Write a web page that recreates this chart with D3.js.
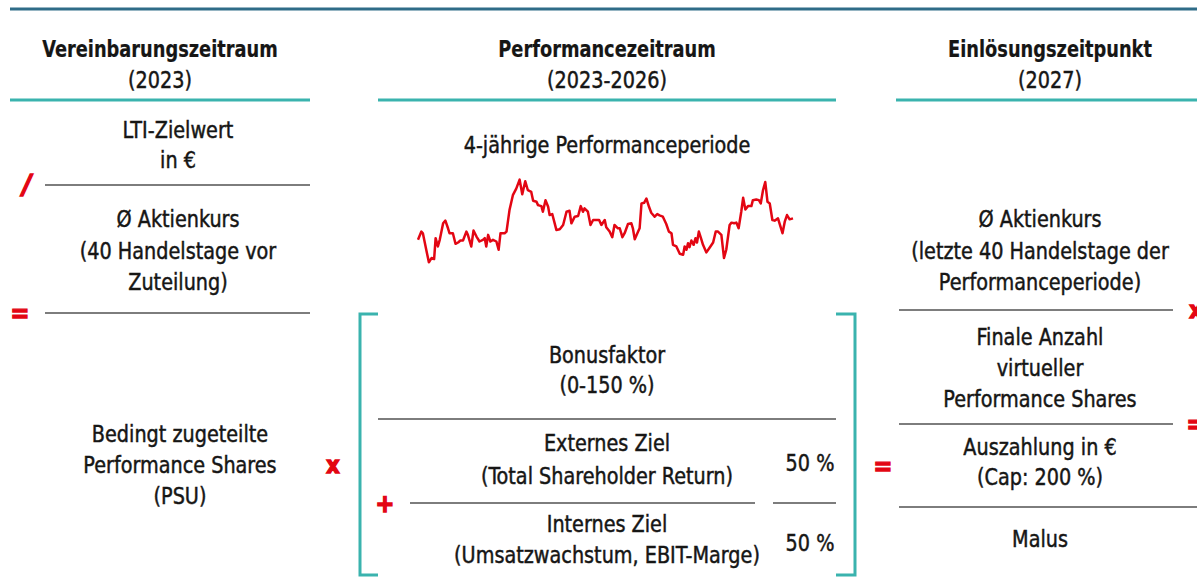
<!DOCTYPE html>
<html>
<head>
<meta charset="utf-8">
<script src="https://cdn.jsdelivr.net/npm/d3@7"></script>
<style>
  body { margin: 0; background: #fff; }
  svg text { font-family: "Liberation Sans Narrow", "DejaVu Sans Condensed", "Liberation Sans", sans-serif; fill: #161615; }
</style>
</head>
<body>
<svg id="canvas" width="1197" height="583"></svg>
<script>
let headers = ['Vereinbarungszeitraum', 'Performancezeitraum', 'Einlösungszeitpunkt'];
let periods = ['(2023)', '(2023-2026)', '(2027)'];

let grantTerms = [
  ['LTI-Zielwert', 'in €'],
  ['Ø Aktienkurs', '(40 Handelstage vor', 'Zuteilung)'],
  ['Bedingt zugeteilte', 'Performance Shares', '(PSU)']
];
let perfTerms = [
  ['Bonusfaktor', '(0-150 %)'],
  ['Externes Ziel', '(Total Shareholder Return)'],
  ['Internes Ziel', '(Umsatzwachstum, EBIT-Marge)']
];
let targetWeights = ['50 %', '50 %'];
let payoutTerms = [
  ['Ø Aktienkurs', '(letzte 40 Handelstage der', 'Performanceperiode)'],
  ['Finale Anzahl', 'virtueller', 'Performance Shares'],
  ['Auszahlung in €', '(Cap: 200 %)'],
  ['Malus']
];
let chartTitle = '4-jährige Performanceperiode';

// share price over the 4 year period (trading day, price)
let days = [0, 9, 13, 22, 29, 36, 43, 47, 53, 58, 67, 73, 80, 84, 93, 100, 107, 113, 120, 129,
  133, 142, 148, 156, 164, 173, 178, 182, 187, 193, 200, 209, 215, 220, 231, 236, 244, 253, 262, 271,
  278, 286, 293, 302, 307, 316, 320, 329, 333, 340, 347, 351, 358, 364, 369, 378, 387, 396, 404, 409,
  418, 427, 434, 440, 444, 453, 460, 467, 476, 483, 489, 498, 502, 511, 518, 524, 533, 538, 545, 551,
  560, 569, 573, 578, 587, 591, 596, 603, 609, 616, 622, 631, 638, 644, 653, 662, 669, 676, 680, 689,
  698, 707, 711, 716, 720, 724, 729, 735, 740, 744, 749, 756, 760, 769, 778, 787, 794, 800, 809, 816,
  822, 831, 836, 843, 849, 855, 862, 867, 873, 880, 889, 893, 902, 909, 914, 920, 926, 932, 938, 945,
  951, 960, 964, 972, 978, 984, 991, 1000];
let prices = [47.0, 49.5, 49.0, 44.0, 40.2, 41.5, 41.2, 47.5, 45.0, 47.0, 52.0, 52.8, 50.5, 49.0, 49.0, 45.8, 46.2, 46.8, 46.8, 49.5,
  48.5, 45.0, 49.8, 48.0, 46.5, 47.0, 47.5, 45.0, 48.5, 46.5, 47.0, 46.5, 44.0, 49.0, 49.0, 49.5, 56.0, 60.5, 62.5, 65.2,
  60.8, 64.7, 62.0, 61.5, 58.8, 58.5, 57.5, 57.2, 55.5, 59.0, 57.0, 54.5, 54.8, 52.2, 50.0, 50.2, 51.5, 55.5, 55.8, 52.0,
  54.0, 54.2, 57.2, 55.5, 56.5, 55.5, 51.5, 53.0, 53.0, 53.0, 51.5, 53.0, 50.8, 49.5, 47.8, 51.5, 50.5, 50.5, 47.8, 49.0,
  51.8, 52.0, 50.5, 47.2, 49.5, 50.5, 58.0, 58.2, 59.5, 57.0, 55.2, 54.0, 54.8, 54.4, 54.0, 51.8, 49.5, 49.0, 45.5, 45.0,
  42.8, 42.5, 45.0, 44.0, 46.0, 44.8, 46.8, 45.5, 47.5, 46.2, 49.5, 47.0, 45.5, 43.2, 44.7, 46.2, 49.5, 49.5, 48.5, 41.5,
  44.0, 51.5, 52.2, 52.0, 52.2, 50.5, 55.5, 59.7, 56.2, 57.2, 57.2, 59.0, 59.2, 59.0, 58.0, 62.0, 64.5, 58.5, 58.0, 53.0,
  52.8, 53.5, 52.0, 49.0, 52.5, 54.5, 53.2, 53.5];

let red = '#e30613';
let teal = '#3ab3ae';
let gray = '#7d7d7d';

let canvas = d3.select('#canvas');

let rule = (x1, x2, y, color, w) => {
  canvas.append('line')
    .attr('x1', x1).attr('x2', x2).attr('y1', y).attr('y2', y)
    .attr('stroke', color).attr('stroke-width', w);
};

// centered text lines, squeezed a little to mimic the condensed original font
let block = (lines, cx, y0, lh, weight) => {
  let sx = weight === 'bold' ? 0.86 : 0.93;
  canvas.append('g').selectAll('text')
    .data(lines)
    .enter()
    .append('text')
    .attr('transform', (d, i) => `translate(${cx},${y0 + i * lh}) scale(${sx},1)`)
    .attr('text-anchor', 'middle')
    .attr('font-size', 23)
    .attr('font-weight', weight || 'normal')
    .attr('stroke', '#161615')
    .attr('stroke-width', weight === 'bold' ? 0.2 : 0.45)
    .text(d => d);
};

let op = (sym, x, y, size, italic) => {
  canvas.append('text')
    .attr('x', x).attr('y', y)
    .attr('text-anchor', 'middle')
    .attr('dominant-baseline', 'central')
    .attr('font-size', size)
    .attr('font-weight', 'bold')
    .attr('font-style', italic ? 'italic' : 'normal')
    .attr('stroke', red)
    .attr('stroke-width', 1.4)
    .style('fill', red)
    .text(sym);
};

// top rule and column headers
rule(10, 1197, 9, '#2f6c88', 3);
let headerX = [160, 607, 1050];
headers.forEach((h, i) => {
  block([h], headerX[i], 57, 0, 'bold');
  block([periods[i]], headerX[i], 88, 0);
});
rule(10, 310, 100, teal, 3);
rule(378, 836, 100, teal, 3);
rule(896, 1197, 100, teal, 3);

// column 1: grant
block(grantTerms[0], 178, 138, 30);
rule(45, 310, 185, gray, 2);
op('/', 27, 184, 27, true);
block(grantTerms[1], 178, 227, 31.5);
rule(45, 310, 313, gray, 2);
op('=', 20, 313, 25);
block(grantTerms[2], 180, 442, 31);
op('x', 333, 465, 23);

// column 2: share price line
block([chartTitle], 607, 153, 0);

let x = d3.scaleLinear().domain([0, 1000]).range([418, 793]);
let y = d3.scaleLinear().domain([40, 66]).range([263, 177]);
let line = d3.line()
  .x(d => x(d[0]))
  .y(d => y(d[1]));

canvas.append('path')
  .datum(days.map((d, i) => [d, prices[i]]))
  .attr('d', line)
  .attr('fill', 'none')
  .attr('stroke', red)
  .attr('stroke-width', 2.5)
  .attr('stroke-linejoin', 'round');

// bracket around the bonus factor
let bracket = (xv, xs) => {
  canvas.append('path')
    .attr('d', `M${xs},314 H${xv} V575 H${xs}`)
    .attr('fill', 'none')
    .attr('stroke', teal)
    .attr('stroke-width', 3);
};
bracket(360, 378);
bracket(855, 836);

block(perfTerms[0], 607, 363, 30);
rule(378, 836, 419, gray, 2);
block(perfTerms[1], 607, 451, 33);
block([targetWeights[0]], 810, 471, 0);
rule(410, 755, 503, gray, 2);
rule(773, 836, 503, gray, 2);
op('+', 385, 503, 25);
block(perfTerms[2], 607, 532, 31);
block([targetWeights[1]], 810, 551, 0);
op('=', 883, 466, 25);

// column 3: payout
block(payoutTerms[0], 1040, 227, 31.5);
rule(899, 1173, 310, gray, 2);
op('x', 1196, 310, 23);
block(payoutTerms[1], 1040, 345, 31);
rule(899, 1173, 424, gray, 2);
op('=', 1196, 424, 25);
block(payoutTerms[2], 1040, 455, 30);
rule(899, 1197, 507, gray, 2);
block(payoutTerms[3], 1040, 547, 0);
</script>
</body>
</html>
